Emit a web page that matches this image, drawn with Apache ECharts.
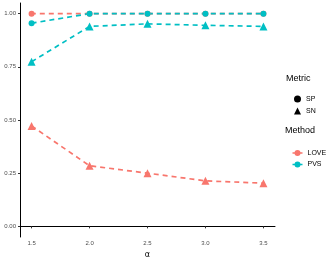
<!DOCTYPE html>
<html><head><meta charset="utf-8">
<script src="https://cdn.jsdelivr.net/npm/echarts@6/dist/echarts.min.js"></script>
<style>html,body{margin:0;padding:0;background:#fff}#c{width:332px;height:258px}</style>
</head><body><div id="c"></div>
<script>
const alphas = [1.5, 2.0, 2.5, 3.0, 3.5];
const loveSP = [1.0, 1.0, 1.0, 1.0, 1.0];
const loveSN = [0.472, 0.285, 0.25, 0.214, 0.203];
const pvsSP = [0.955, 1.0, 1.0, 1.0, 1.0];
const pvsSN = [0.774, 0.94, 0.952, 0.945, 0.94];
const yTicks = [0, 0.25, 0.5, 0.75, 1.0];
const RED = '#F8766D', CYAN = '#00BFC4';
const pair = arr => alphas.map((a, i) => [a, arr[i]]);
function line(name, arr, color, symbol, size, offset) {
  return { name, type: 'line', data: pair(arr), symbol, symbolSize: size,
    lineStyle: { color, width: 1.7, type: [5, 4], dashOffset: offset || 0 }, itemStyle: { color },
    animation: false, z: 2 };
}
const lineDot = 'path://M0 2.3 H10 V3.7 H0 Z M5 0 A3 3 0 1 1 5 6 A3 3 0 1 1 5 0 Z';
const chart = echarts.init(document.getElementById('c'));
chart.setOption({
  animation: false,
  grid: { left: 20, right: 57, top: 3, bottom: 21, outerBoundsMode: 'none' },
  xAxis: { type: 'value', min: 1.4, max: 3.6, name: 'α', nameLocation: 'middle', nameGap: 8,
    nameTextStyle: { fontSize: 8, color: '#000', fontFamily: 'DejaVu Sans' },
    splitLine: { show: false },
    axisLine: { lineStyle: { color: '#000', width: 1 } },
    axisTick: { customValues: alphas, length: 2, lineStyle: { color: '#333' } },
    axisLabel: { customValues: alphas, fontSize: 6, color: '#4d4d4d', margin: 3,
      formatter: v => v.toFixed(1) } },
  yAxis: { type: 'value', min: -0.05, max: 1.05,
    splitLine: { show: false },
    axisLine: { show: true, lineStyle: { color: '#000', width: 1 } },
    axisTick: { show: true, customValues: yTicks, length: 2, lineStyle: { color: '#333' } },
    axisLabel: { customValues: yTicks, fontSize: 6, color: '#4d4d4d', margin: 4,
      formatter: v => v.toFixed(2) } },
  legend: [
    { data: [{ name: 'SP', icon: 'circle' }, { name: 'SN', icon: 'triangle' }],
      orient: 'vertical', left: 289, top: 90, itemWidth: 7, itemHeight: 7, itemGap: 4,
      textStyle: { fontSize: 7, color: '#000', lineHeight: 8 }, selectedMode: false },
    { data: [{ name: 'LOVE', icon: lineDot }, { name: 'PVS', icon: lineDot }],
      orient: 'vertical', left: 287.5, top: 144, itemWidth: 10, itemHeight: 6, itemGap: 3.5,
      textStyle: { fontSize: 7, color: '#000', lineHeight: 8 }, selectedMode: false }
  ],
  graphic: [
    { type: 'text', left: 286, top: 74.5, style: { text: 'Metric', fontSize: 9, fill: '#000' } },
    { type: 'text', left: 285, top: 126.5, style: { text: 'Method', fontSize: 9, fill: '#000' } }
  ],
  series: [
    line('LOVE-SP', loveSP, RED, 'circle', 6, 0.8),
    line('LOVE-SN', loveSN, RED, 'triangle', 8),
    line('PVS-SP', pvsSP, CYAN, 'circle', 6),
    line('PVS-SN', pvsSN, CYAN, 'triangle', 8),
    { name: 'SP', type: 'line', data: [], itemStyle: { color: '#000' }, lineStyle: { opacity: 0 } },
    { name: 'SN', type: 'line', data: [], itemStyle: { color: '#000' }, lineStyle: { opacity: 0 } },
    { name: 'LOVE', type: 'line', data: [], itemStyle: { color: RED }, lineStyle: { color: RED } },
    { name: 'PVS', type: 'line', data: [], itemStyle: { color: CYAN }, lineStyle: { color: CYAN } }
  ]
});
</script></body></html>
